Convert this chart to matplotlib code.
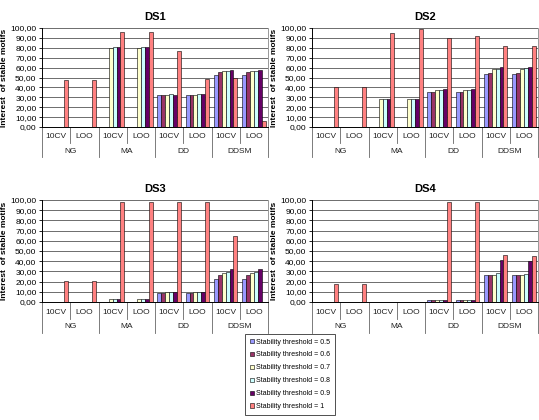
from matplotlib import pyplot as plt
from matplotlib.patches import Patch
import numpy as np

nan = np.nan

groups = ["NG", "MA", "DD", "DDSM"]
protocols = ["10CV", "LOO"]
thresholds = ["Stability threshold = 0.5", "Stability threshold = 0.6",
              "Stability threshold = 0.7", "Stability threshold = 0.8",
              "Stability threshold = 0.9", "Stability threshold = 1"]
yticks = [0, 10, 20, 30, 40, 50, 60, 70, 80, 90, 100]
ytick_labels = ["0,00", "10,00", "20,00", "30,00", "40,00", "50,00",
                "60,00", "70,00", "80,00", "90,00", "100,00"]

# one row per (group, protocol), columns = thresholds 0.5 .. 1
ds1 = [
    [nan, nan, nan, nan, nan, 47],
    [nan, nan, nan, nan, nan, 47],
    [nan, nan, 80, 81, 81, 96],
    [nan, nan, 80, 81, 81, 96],
    [32, 32, 32, 33, 32, 77],
    [32, 32, 32, 33, 33, 48],
    [53, 56, 57, 57, 58, 50],
    [53, 56, 57, 57, 58, 6],
]
ds2 = [
    [nan, nan, nan, nan, nan, 40],
    [nan, nan, nan, nan, nan, 40],
    [nan, nan, 28, 28, 28, 95],
    [nan, nan, 28, 28, 28, 99],
    [35, 35, 37, 37, 38, 90],
    [35, 35, 37, 37, 38, 92],
    [54, 55, 59, 59, 61, 82],
    [54, 55, 59, 60, 61, 82],
]
ds3 = [
    [nan, nan, nan, nan, nan, 21],
    [nan, nan, nan, nan, nan, 21],
    [nan, nan, 3, 3, 3, 98],
    [nan, nan, 3, 3, 3, 98],
    [9, 9, 10, 10, 10, 98],
    [9, 9, 10, 10, 10, 98],
    [23, 26, 28, 29, 32, 65],
    [23, 26, 28, 29, 32, nan],
]
ds4 = [
    [nan, nan, nan, nan, nan, 18],
    [nan, nan, nan, nan, nan, 18],
    [nan, nan, nan, nan, nan, nan],
    [nan, nan, nan, nan, nan, nan],
    [2, 2, 2, 2, 2, 98],
    [2, 2, 2, 2, 2, 98],
    [26, 26, 26, 28, 41, 46],
    [26, 26, 26, 27, 40, 45],
]

colors = ["#9999FF", "#993366", "#FFFFCC", "#CCFFFF", "#660066", "#FF8080"]

plt.rcParams["font.family"] = ["Liberation Sans", "DejaVu Sans"]

fig = plt.figure(figsize=(5.39, 4.2), dpi=100)

# left, bottom, width, height in figure fractions
panels = [
    ("DS1", ds1, [42 / 539, 1 - 127 / 420, 226 / 539, 99 / 420]),
    ("DS2", ds2, [312 / 539, 1 - 127 / 420, 226 / 539, 99 / 420]),
    ("DS3", ds3, [42 / 539, 1 - 302 / 420, 226 / 539, 102 / 420]),
    ("DS4", ds4, [312 / 539, 1 - 302 / 420, 226 / 539, 102 / 420]),
]

n_sub = len(groups) * len(protocols)
bar_w = 0.83 / len(thresholds)

for name, data, rect in panels:
    ax = fig.add_axes(rect)
    vals = np.array(data, dtype=float)
    x = np.arange(n_sub) + 0.5
    for k in range(len(thresholds)):
        offs = (k - (len(thresholds) - 1) / 2) * bar_w
        ax.bar(x + offs, vals[:, k], width=bar_w, color=colors[k],
               edgecolor="black", linewidth=0.4, zorder=3)

    ax.set_xlim(0, n_sub)
    ax.set_ylim(0, 100)
    ax.set_yticks(yticks)
    ax.set_yticklabels(ytick_labels, fontsize=6)
    ax.tick_params(axis="y", length=2.5, width=0.6, pad=1.5)
    ax.set_xticks([])
    ax.yaxis.grid(True, color="#555555", linewidth=0.6, zorder=0)
    ax.set_axisbelow(True)
    ax.spines["top"].set_visible(False)
    ax.spines["right"].set_color("#888888")
    ax.spines["right"].set_linewidth(0.6)
    ax.spines["left"].set_linewidth(0.7)
    ax.spines["bottom"].set_linewidth(0.7)

    ax.set_title(name, fontsize=8, fontweight="bold", pad=6)
    ax.set_ylabel("Interest  of stable motifs", fontsize=6, fontweight="bold",
                  labelpad=2)

    # two-level category axis
    tr = ax.get_xaxis_transform()
    for i in range(n_sub):
        ax.text(i + 0.5, -0.10, protocols[i % 2], transform=tr, fontsize=6,
                ha="center", va="center", color="#222222")
    for j, g in enumerate(groups):
        ax.text(2 * j + 1, -0.245, g, transform=tr, fontsize=6,
                ha="center", va="center", color="#222222")
    for i in range(n_sub + 1):
        depth = -0.30 if i % 2 == 0 else -0.165
        ax.plot([i, i], [0, depth], transform=tr, color="#666666",
                linewidth=0.6, clip_on=False)

handles = [Patch(facecolor=c, edgecolor="black", linewidth=0.4) for c in colors]
leg = fig.legend(handles, thresholds, loc="lower left",
                 bbox_to_anchor=(245 / 539, 0.012), fontsize=5.0,
                 frameon=True, fancybox=False, edgecolor="black",
                 handlelength=0.6, handleheight=0.6, handletextpad=0.3,
                 labelspacing=0.85, borderpad=0.7, borderaxespad=0)
leg.get_frame().set_linewidth(0.6)

fig.savefig("out.png", dpi=100)
